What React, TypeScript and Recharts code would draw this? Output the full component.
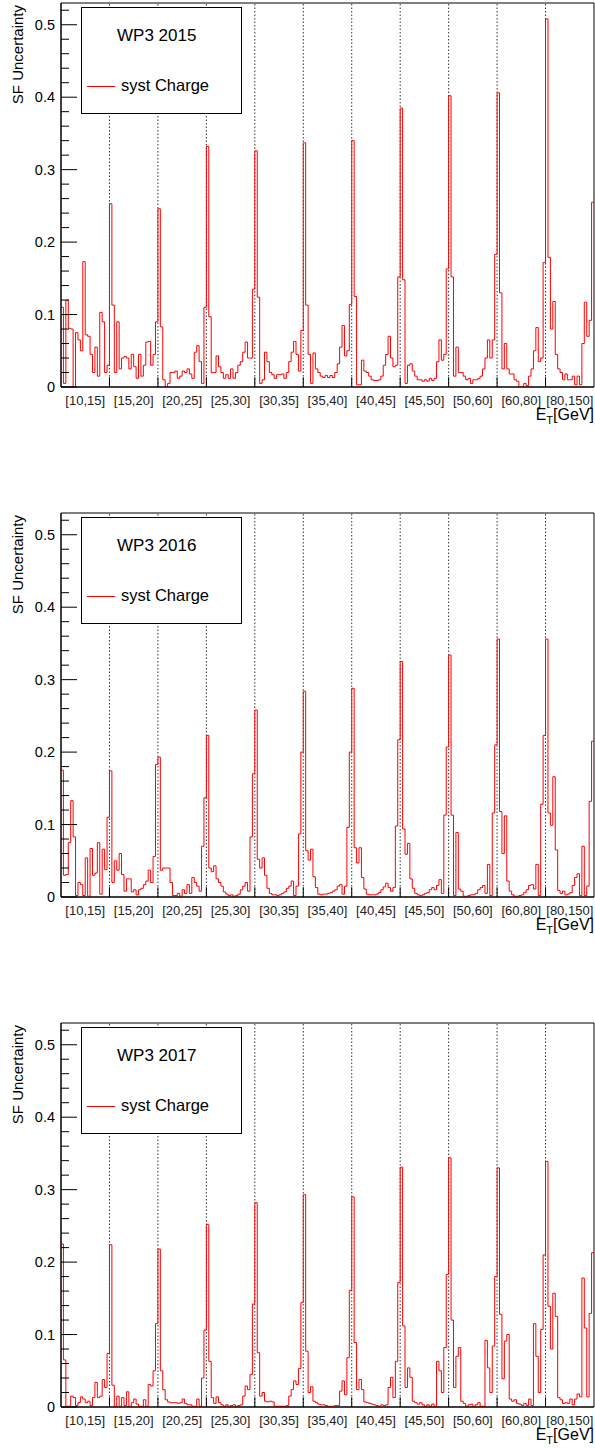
import React from "react";
import { Label, Line, LineChart, ReferenceArea, ReferenceLine, XAxis, YAxis } from "recharts";

const ET_BINS = [
  "[10,15]",
  "[15,20]",
  "[20,25]",
  "[25,30]",
  "[30,35]",
  "[35,40]",
  "[40,45]",
  "[45,50]",
  "[50,60]",
  "[60,80]",
  "[80,150]",
];
const ETA_PER_ET = 20;
const Y_MAX = 0.53;
const Y_MAJOR = [0, 0.1, 0.2, 0.3, 0.4, 0.5];
const Y_MINOR = [
  0.02, 0.04, 0.06, 0.08, 0.12, 0.14, 0.16, 0.18, 0.22, 0.24, 0.26, 0.28, 0.32, 0.34, 0.36,
  0.38, 0.42, 0.44, 0.46, 0.48, 0.52,
];

// one row per ET bin, 20 eta bins each
const SYST_2015 = [
  [0.11, 0.005, 0.12, 0.081, 0.08, 0.0, 0.075, 0.065, 0.05, 0.173, 0.072, 0.07, 0.045, 0.02, 0.055, 0.015, 0.103, 0.09, 0.02, 0.03],
  [0.253, 0.113, 0.02, 0.09, 0.025, 0.04, 0.042, 0.04, 0.025, 0.045, 0.028, 0.012, 0.045, 0.015, 0.03, 0.062, 0.063, 0.03, 0.045, 0.09],
  [0.246, 0.083, 0.01, 0.0, 0.005, 0.02, 0.02, 0.022, 0.012, 0.015, 0.022, 0.02, 0.025, 0.018, 0.012, 0.048, 0.057, 0.035, 0.005, 0.11],
  [0.332, 0.097, 0.02, 0.02, 0.043, 0.028, 0.02, 0.012, 0.017, 0.012, 0.025, 0.012, 0.02, 0.03, 0.035, 0.048, 0.062, 0.04, 0.04, 0.135],
  [0.326, 0.124, 0.005, 0.01, 0.048, 0.035, 0.02, 0.017, 0.012, 0.017, 0.017, 0.018, 0.012, 0.02, 0.035, 0.048, 0.063, 0.045, 0.022, 0.078],
  [0.337, 0.113, 0.045, 0.005, 0.047, 0.025, 0.02, 0.015, 0.013, 0.016, 0.013, 0.016, 0.013, 0.02, 0.032, 0.055, 0.085, 0.043, 0.05, 0.114],
  [0.34, 0.125, 0.003, 0.003, 0.037, 0.022, 0.02, 0.015, 0.01, 0.009, 0.009, 0.01, 0.015, 0.03, 0.045, 0.07, 0.04, 0.028, 0.03, 0.152],
  [0.385, 0.148, 0.005, 0.03, 0.032, 0.022, 0.015, 0.01, 0.01, 0.008, 0.01, 0.008, 0.012, 0.009, 0.012, 0.035, 0.065, 0.037, 0.045, 0.163],
  [0.402, 0.152, 0.015, 0.055, 0.02, 0.02, 0.015, 0.01, 0.012, 0.005, 0.01, 0.01, 0.012, 0.015, 0.025, 0.04, 0.065, 0.04, 0.065, 0.183],
  [0.406, 0.13, 0.025, 0.06, 0.025, 0.018, 0.018, 0.01, 0.008, 0.0, 0.0, 0.005, 0.002, 0.015, 0.025, 0.05, 0.082, 0.035, 0.04, 0.172],
  [0.508, 0.179, 0.08, 0.118, 0.045, 0.025, 0.02, 0.01, 0.018, 0.01, 0.01, 0.015, 0.003, 0.015, 0.003, 0.06, 0.117, 0.07, 0.092, 0.255],
];

const SYST_2016 = [
  [0.175, 0.03, 0.031, 0.075, 0.133, 0.083, 0.002, 0.02, 0.017, 0.002, 0.054, 0.001, 0.067, 0.03, 0.033, 0.075, 0.004, 0.066, 0.038, 0.11],
  [0.174, 0.02, 0.05, 0.037, 0.06, 0.031, 0.008, 0.025, 0.025, 0.007, 0.01, 0.003, 0.01, 0.012, 0.017, 0.022, 0.037, 0.02, 0.056, 0.183],
  [0.193, 0.037, 0.04, 0.04, 0.04, 0.02, 0.002, 0.002, 0.005, 0.001, 0.01, 0.005, 0.017, 0.005, 0.027, 0.02, 0.015, 0.008, 0.07, 0.137],
  [0.223, 0.04, 0.035, 0.043, 0.025, 0.02, 0.015, 0.007, 0.004, 0.002, 0.003, 0.001, 0.002, 0.004, 0.01, 0.015, 0.02, 0.008, 0.083, 0.17],
  [0.258, 0.052, 0.04, 0.054, 0.03, 0.012, 0.005, 0.003, 0.003, 0.002, 0.003, 0.005, 0.007, 0.012, 0.015, 0.022, 0.002, 0.015, 0.087, 0.2],
  [0.284, 0.064, 0.051, 0.066, 0.028, 0.013, 0.004, 0.003, 0.004, 0.004, 0.005, 0.006, 0.008, 0.01, 0.015, 0.017, 0.004, 0.015, 0.096, 0.2],
  [0.288, 0.068, 0.047, 0.068, 0.027, 0.011, 0.004, 0.003, 0.003, 0.003, 0.004, 0.006, 0.01, 0.014, 0.019, 0.013, 0.008, 0.013, 0.098, 0.217],
  [0.325, 0.094, 0.059, 0.074, 0.025, 0.012, 0.005, 0.003, 0.002, 0.003, 0.005, 0.006, 0.01, 0.013, 0.01, 0.016, 0.024, 0.005, 0.113, 0.207],
  [0.334, 0.113, 0.002, 0.089, 0.011, 0.008, 0.001, 0.001, 0.002, 0.003, 0.003, 0.005, 0.01, 0.013, 0.016, 0.005, 0.045, 0.002, 0.116, 0.21],
  [0.356, 0.118, 0.06, 0.112, 0.022, 0.008, 0.003, 0.001, 0.001, 0.002, 0.003, 0.006, 0.01, 0.016, 0.017, 0.011, 0.045, 0.002, 0.128, 0.223],
  [0.356, 0.116, 0.099, 0.166, 0.065, 0.009, 0.005, 0.008, 0.003, 0.004, 0.006, 0.016, 0.027, 0.032, 0.002, 0.07, 0.002, 0.015, 0.132, 0.215],
];

const SYST_2017 = [
  [0.225, 0.065, 0.001, 0.001, 0.015, 0.013, 0.002, 0.006, 0.014, 0.011, 0.006, 0.008, 0.002, 0.013, 0.034, 0.013, 0.015, 0.038, 0.027, 0.074],
  [0.224, 0.03, 0.001, 0.015, 0.001, 0.013, 0.002, 0.021, 0.001, 0.006, 0.011, 0.004, 0.001, 0.001, 0.01, 0.001, 0.031, 0.029, 0.05, 0.115],
  [0.218, 0.05, 0.024, 0.01, 0.007, 0.006, 0.006, 0.006, 0.005, 0.006, 0.011, 0.005, 0.003, 0.003, 0.001, 0.001, 0.011, 0.001, 0.04, 0.106],
  [0.252, 0.063, 0.013, 0.005, 0.014, 0.006, 0.003, 0.001, 0.003, 0.001, 0.002, 0.003, 0.001, 0.002, 0.003, 0.015, 0.029, 0.024, 0.045, 0.142],
  [0.282, 0.075, 0.015, 0.02, 0.008, 0.007, 0.008, 0.007, 0.001, 0.001, 0.001, 0.001, 0.001, 0.002, 0.015, 0.024, 0.036, 0.031, 0.053, 0.144],
  [0.293, 0.077, 0.02, 0.028, 0.008, 0.006, 0.004, 0.003, 0.003, 0.002, 0.001, 0.001, 0.001, 0.002, 0.002, 0.022, 0.036, 0.017, 0.068, 0.161],
  [0.29, 0.089, 0.024, 0.038, 0.024, 0.007, 0.006, 0.005, 0.004, 0.003, 0.002, 0.001, 0.003, 0.002, 0.003, 0.027, 0.041, 0.013, 0.063, 0.172],
  [0.331, 0.112, 0.027, 0.054, 0.041, 0.008, 0.006, 0.004, 0.006, 0.003, 0.001, 0.003, 0.001, 0.004, 0.001, 0.063, 0.05, 0.02, 0.082, 0.183],
  [0.344, 0.12, 0.027, 0.07, 0.082, 0.008, 0.005, 0.001, 0.003, 0.004, 0.001, 0.003, 0.006, 0.001, 0.001, 0.092, 0.054, 0.02, 0.084, 0.18],
  [0.33, 0.128, 0.039, 0.091, 0.1, 0.011, 0.008, 0.01, 0.005, 0.004, 0.002, 0.005, 0.002, 0.011, 0.002, 0.115, 0.07, 0.02, 0.107, 0.21],
  [0.339, 0.139, 0.08, 0.157, 0.125, 0.013, 0.01, 0.005, 0.006, 0.005, 0.011, 0.003, 0.011, 0.018, 0.014, 0.178, 0.109, 0.014, 0.129, 0.213],
];

const PANELS = [
  { title: "WP3 2015", rows: SYST_2015 },
  { title: "WP3 2016", rows: SYST_2016 },
  { title: "WP3 2017", rows: SYST_2017 },
];

const FONT = '"Liberation Sans", Arial, Helvetica, sans-serif';
const N_BINS = ET_BINS.length * ETA_PER_ET;
const LABEL_TICKS = ET_BINS.map((_, k) => k * ETA_PER_ET + ETA_PER_ET / 2);
const DIVIDERS = ET_BINS.slice(1).map((_, k) => (k + 1) * ETA_PER_ET);
const Y_TICKS = [...Y_MAJOR, ...Y_MINOR].sort((a, b) => a - b);
const DIV_TICK = 0.0135; // ~10px tall tick on the x axis at each divider

// histogram outline: each bin starts at its index, last bin closed at N_BINS
function toSteps(rows: number[][]) {
  const flat = rows.flat();
  const pts = flat.map((v, i) => ({ x: i, v }));
  pts.push({ x: flat.length, v: flat[flat.length - 1] });
  return pts;
}

const isMajor = (v: number) => Y_MAJOR.some((m) => Math.abs(m - v) < 1e-9);

// ROOT style: ticks point into the frame, labels only on the major ones
function YTick(props: any) {
  const { x, y, payload } = props;
  const v = payload.value as number;
  const axisX = x + 6;
  if (!isMajor(v)) {
    return <line x1={axisX} x2={axisX + 8} y1={y} y2={y} stroke="#000" />;
  }
  return (
    <g>
      <line x1={axisX} x2={axisX + 16} y1={y} y2={y} stroke="#000" />
      <text x={x} y={y} dy="0.355em" textAnchor="end" fontSize={14.5} fill="#000">
        {v === 0 ? "0" : v.toFixed(1)}
      </text>
    </g>
  );
}

function YTitle(props: any) {
  const vb = props.viewBox;
  const x = vb.x + 23;
  const y = vb.y + 2;
  return (
    <text x={x} y={y} transform={`rotate(-90 ${x} ${y})`} textAnchor="end" fontSize={15} fill="#000">
      SF Uncertainty
    </text>
  );
}

function EtTitle(props: any) {
  const vb = props.viewBox;
  return (
    <text x={vb.x + vb.width} y={vb.y + 33} textAnchor="end" fontSize={16} fill="#000">
      <tspan>E</tspan>
      <tspan dy={4} fontSize={11}>
        T
      </tspan>
      <tspan dy={-4}>[GeV]</tspan>
    </text>
  );
}

function Panel({ title, rows, top }: { title: string; rows: number[][]; top: number }) {
  const data = toSteps(rows);
  return (
    <div style={{ position: "absolute", left: 0, top, width: 595, height: 428 }}>
      <LineChart width={595} height={428} data={data} margin={{ top: 3, right: 1, bottom: 0, left: 0 }}>
        <XAxis
          dataKey="x"
          type="number"
          domain={[0, N_BINS]}
          allowDataOverflow
          ticks={LABEL_TICKS}
          interval={0}
          tickFormatter={(v: number) => ET_BINS[Math.floor(v / ETA_PER_ET)]}
          tickLine={false}
          tickSize={0}
          tickMargin={9}
          height={41}
          axisLine={{ stroke: "#000" }}
          tick={{ fontSize: 13, fill: "#222" }}
          label={<Label content={EtTitle} />}
        />
        <YAxis
          type="number"
          domain={[0, Y_MAX]}
          allowDataOverflow
          ticks={Y_TICKS}
          interval={0}
          width={61}
          tickLine={false}
          tickSize={0}
          tickMargin={6}
          axisLine={{ stroke: "#000" }}
          tick={YTick}
          label={<Label content={YTitle} />}
        />
        {DIVIDERS.map((d) => (
          <ReferenceLine key={d} x={d} stroke="#333" strokeDasharray="1.5 2" />
        ))}
        {DIVIDERS.map((d) => (
          <ReferenceLine
            key={`t${d}`}
            segment={[
              { x: d, y: 0 },
              { x: d, y: DIV_TICK },
            ]}
            stroke="#000"
          />
        ))}
        <ReferenceArea x1={0} x2={N_BINS} y1={0} y2={Y_MAX} fill="none" stroke="#000" />
        <Line
          dataKey="v"
          type="stepAfter"
          stroke="#ff0000"
          strokeWidth={1}
          dot={false}
          isAnimationActive={false}
        />
      </LineChart>
      <div
        style={{
          position: "absolute",
          left: 81,
          top: 7,
          width: 161,
          height: 107,
          boxSizing: "border-box",
          border: "1px solid #000",
          background: "#fff",
        }}
      >
        <div style={{ position: "absolute", left: 35, top: 19, fontSize: 17, lineHeight: "17px", whiteSpace: "nowrap" }}>
          {title}
        </div>
        <div style={{ position: "absolute", left: 5, top: 78, width: 28, height: 1, background: "#ff0000" }} />
        <div style={{ position: "absolute", left: 39, top: 69, fontSize: 16.5, lineHeight: "16.5px", whiteSpace: "nowrap" }}>
          syst Charge
        </div>
      </div>
    </div>
  );
}

export default function App() {
  return (
    <div
      style={{
        position: "absolute",
        left: 0,
        top: 0,
        width: 595,
        height: 1448,
        background: "#fff",
        fontFamily: FONT,
        color: "#000",
      }}
    >
      {PANELS.map((p, i) => (
        <Panel key={p.title} title={p.title} rows={p.rows} top={i * 510} />
      ))}
    </div>
  );
}
